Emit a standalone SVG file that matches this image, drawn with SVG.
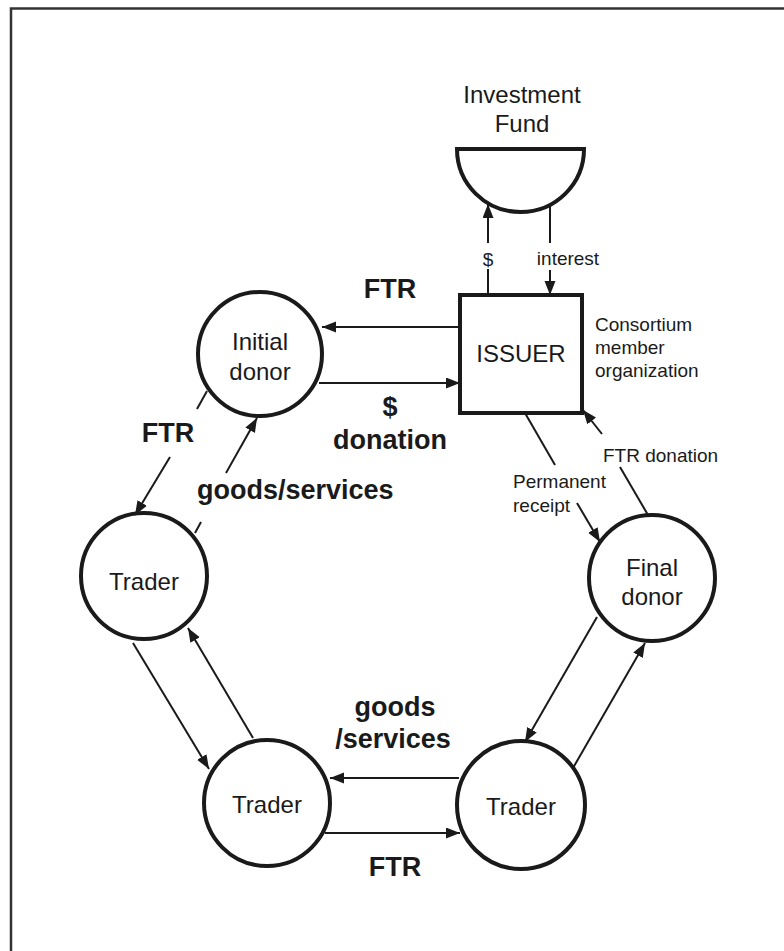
<svg xmlns="http://www.w3.org/2000/svg" width="784" height="951" viewBox="0 0 784 951">
<style>
  .node { fill: #fff; stroke: #1a1a1a; stroke-width: 4; }
  .conn { stroke: #1a1a1a; stroke-width: 2; fill: none; }
  .t { font-family: "Liberation Sans", Arial, sans-serif; fill: #1a1a1a; text-anchor: middle; }
  .big { font-size: 24px; }
  .small { font-size: 19px; }
  .bold { font-size: 27px; font-weight: bold; }
  .left { text-anchor: start; }
</style>
<defs>
  <marker id="ah" markerUnits="userSpaceOnUse" markerWidth="15" markerHeight="12" refX="14" refY="5.5" orient="auto">
    <path d="M0,0 L14,5.5 L0,11 Z" fill="#1a1a1a"/>
  </marker>
</defs>
<rect width="784" height="951" fill="#fff"/>
<path d="M11,951 V8.5 H784" fill="none" stroke="#333" stroke-width="2.5"/>

<g id="fund">
  <path class="node" d="M457,149 H584 A63.5,63 0 0 1 457,149 Z"/>
  <text class="t big" x="522" y="103">Investment</text>
  <text class="t big" x="522" y="132">Fund</text>
</g>

<g id="issuer">
  <rect class="node" x="460" y="295" width="122" height="118"/>
  <text class="t big" x="521" y="362">ISSUER</text>
  <text class="t small left" x="595" y="331">Consortium</text>
  <text class="t small left" x="595" y="354">member</text>
  <text class="t small left" x="595" y="377">organization</text>
</g>

<g id="initial-donor">
  <circle class="node" cx="260" cy="354" r="62"/>
  <text class="t big" x="260" y="350">Initial</text>
  <text class="t big" x="260" y="380">donor</text>
</g>

<g id="final-donor">
  <circle class="node" cx="652" cy="578" r="63"/>
  <text class="t big" x="652" y="576">Final</text>
  <text class="t big" x="652" y="605">donor</text>
</g>

<g id="trader-left">
  <circle class="node" cx="144" cy="576" r="63"/>
  <text class="t big" x="144" y="590">Trader</text>
</g>

<g id="trader-bottom-left">
  <circle class="node" cx="267" cy="803" r="63"/>
  <text class="t big" x="267" y="813">Trader</text>
</g>

<g id="trader-bottom-right">
  <circle class="node" cx="521" cy="805" r="64"/>
  <text class="t big" x="521" y="815">Trader</text>
</g>

<g id="connectors">
  <!-- $ to fund -->
  <line class="conn" x1="488" y1="295" x2="488" y2="269"/>
  <line class="conn" x1="488" y1="243" x2="488" y2="204" marker-end="url(#ah)"/>
  <text class="t small" x="488" y="266">$</text>
  <!-- interest -->
  <line class="conn" x1="550" y1="205" x2="550" y2="243"/>
  <line class="conn" x1="550" y1="270" x2="550" y2="295" marker-end="url(#ah)"/>
  <text class="t small" x="568" y="265">interest</text>
  <!-- FTR issuer to initial donor -->
  <line class="conn" x1="460" y1="327" x2="322" y2="327" marker-end="url(#ah)"/>
  <text class="t bold" x="390" y="298">FTR</text>
  <!-- $ donation -->
  <line class="conn" x1="319" y1="383" x2="460" y2="383" marker-end="url(#ah)"/>
  <text class="t bold" x="390" y="416">$</text>
  <text class="t bold" x="390" y="449">donation</text>
  <!-- FTR initial donor to trader -->
  <line class="conn" x1="207" y1="391" x2="197" y2="409"/>
  <line class="conn" x1="170" y1="457" x2="135" y2="515" marker-end="url(#ah)"/>
  <text class="t bold" x="168" y="442">FTR</text>
  <!-- goods/services trader to initial donor -->
  <line class="conn" x1="195" y1="533" x2="201" y2="522"/>
  <line class="conn" x1="226" y1="473" x2="257" y2="418" marker-end="url(#ah)"/>
  <text class="t bold left" x="197" y="499">goods/services</text>
  <!-- trader left <-> trader bottom left -->
  <line class="conn" x1="133" y1="643" x2="209" y2="769" marker-end="url(#ah)"/>
  <line class="conn" x1="253" y1="738" x2="188" y2="628" marker-end="url(#ah)"/>
  <!-- bottom traders -->
  <line class="conn" x1="459" y1="778" x2="330" y2="778" marker-end="url(#ah)"/>
  <line class="conn" x1="325" y1="833" x2="460" y2="833" marker-end="url(#ah)"/>
  <text class="t bold" x="395" y="716">goods</text>
  <text class="t bold" x="393" y="748">/services</text>
  <text class="t bold" x="395" y="876">FTR</text>
  <!-- final donor <-> trader bottom right -->
  <line class="conn" x1="597" y1="617" x2="525" y2="742" marker-end="url(#ah)"/>
  <line class="conn" x1="573" y1="768" x2="645" y2="643" marker-end="url(#ah)"/>
  <!-- permanent receipt -->
  <line class="conn" x1="525" y1="413" x2="555" y2="465"/>
  <line class="conn" x1="577" y1="503" x2="600" y2="542" marker-end="url(#ah)"/>
  <text class="t small left" x="513" y="488">Permanent</text>
  <text class="t small left" x="513" y="512">receipt</text>
  <!-- FTR donation -->
  <line class="conn" x1="648" y1="515" x2="620" y2="467"/>
  <line class="conn" x1="602" y1="434" x2="583" y2="410" marker-end="url(#ah)"/>
  <text class="t small left" x="603" y="462">FTR donation</text>
</g>
</svg>
